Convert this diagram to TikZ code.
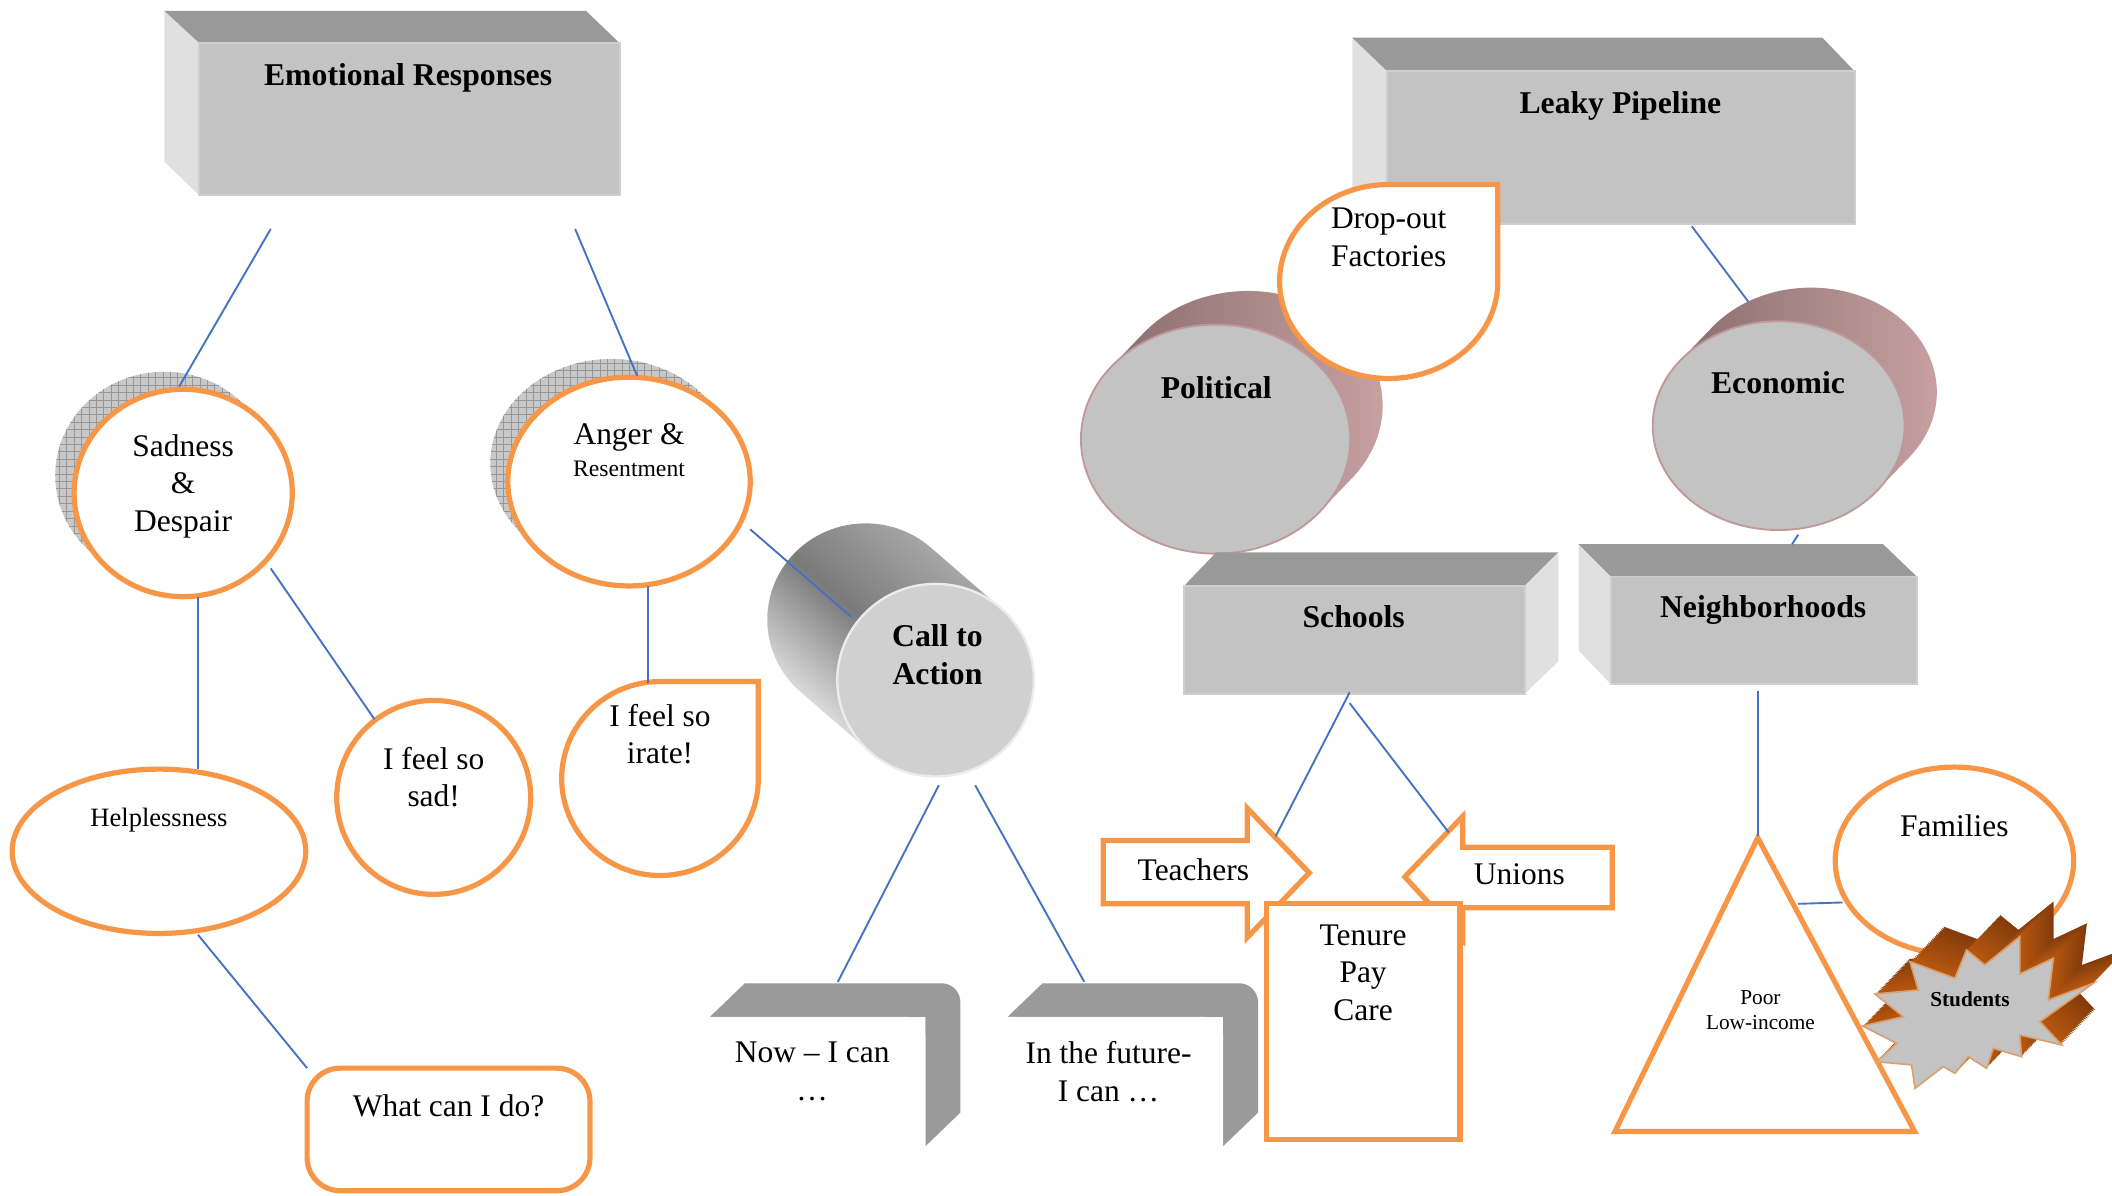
\documentclass[tikz,border=0pt]{standalone}
\usepackage{fontspec}
\setmainfont{Liberation Serif}
\definecolor{orng}{HTML}{F79646}
\definecolor{linkblue}{HTML}{4472C4}
\definecolor{boxfront}{HTML}{C3C3C3}
\definecolor{boxedge}{HTML}{CFCFCF}
\definecolor{boxtop}{HTML}{999999}
\definecolor{boxside}{HTML}{E0E0E0}
\definecolor{hatchbase}{HTML}{C8C8C8}
\definecolor{hatchline}{HTML}{969696}
\definecolor{ctaface}{HTML}{D0D0D0}
\definecolor{ctadark}{HTML}{7A7A7A}
\definecolor{ctamid}{HTML}{B0B0B0}
\definecolor{ctalight}{HTML}{F2F2F2}
\definecolor{pinkdark}{HTML}{8A6E6E}
\definecolor{pinklight}{HTML}{CBA3A3}
\definecolor{pinkedge}{HTML}{C09A9A}
\definecolor{gray3d}{HTML}{9A9A9A}
\definecolor{burstback}{HTML}{843C0C}
\definecolor{burstfront}{HTML}{B8580F}
\definecolor{burstedge}{HTML}{D9A070}
\begin{document}
\begin{tikzpicture}[x=0.02cm,y=-0.02cm,
  conn/.style={draw=linkblue,line width=0.8pt},
  obox/.style={draw=orng,line width=2.2pt,fill=white,line join=miter},
  frontface/.style={fill=boxfront,draw=boxedge,line width=0.8pt},
  txt/.style={inner sep=0pt,align=center,font=\fontsize{13.3}{15.9}\selectfont},
  btxt/.style={inner sep=0pt,align=center,font=\fontsize{13.4}{15.9}\selectfont\bfseries},
  hatchgrid/.style={draw=hatchline,line width=0.3pt}
]
\useasboundingbox (0,0) rectangle (1568,887.2);

% ---------------- Emotional Responses box
\fill[boxside] (122,8) -- (148,32) -- (148,145) -- (122,120) -- cycle;
\fill[boxtop] (122,8) -- (435,8) -- (460,32) -- (148,32) -- cycle;
\filldraw[frontface] (148,32) rectangle (460,145);
\node[btxt] (er) at (303,58) {Emotional Responses};

% ---------------- Sadness & Despair
\begin{scope}
  \clip (122,353) ellipse [x radius=81, y radius=77];
  \fill[hatchbase] (30,260) rectangle (220,450);
  \draw[hatchgrid,step=0.11cm] (30,260) grid (220,450);
\end{scope}
\draw[obox] (136,366) ellipse [x radius=81, y radius=77];
\node[txt] (sad) at (136,361) {Sadness\\\&\\Despair};

% ---------------- Anger & Resentment
\begin{scope}
  \clip (454,344) ellipse [x radius=90, y radius=77.5];
  \fill[hatchbase] (350,250) rectangle (560,440);
  \draw[hatchgrid,step=0.11cm] (350,250) grid (560,440);
\end{scope}
\draw[obox] (467,357.5) ellipse [x radius=90, y radius=77.5];
\node[txt] (anger) at (467,325) {Anger \&};
\node[inner sep=0pt,font=\fontsize{10}{12}\selectfont] (resent) at (467,348) {Resentment};

% ---------------- Helplessness, sad, irate, what can I do
\draw[obox] (118,632) ellipse [x radius=109, y radius=61];
\node[inner sep=0pt,font=\fontsize{11.2}{13}\selectfont] (help) at (118,609) {Helplessness};

\draw[obox] (322,592) ellipse [x radius=72, y radius=72];
\node[txt] (feelsad) at (322,577) {I feel so\\sad!};

\draw[obox] (563,578) arc[start angle=0, end angle=270, x radius=73, y radius=72] -- (563,506) -- cycle;
\node[txt] (irate) at (490,545) {I feel so\\irate!};

\draw[obox, rounded corners=14] (228,793) rectangle (438,884);
\node[txt] (what) at (333,821) {What can I do?};

% ---------------- Call to Action cylinder
\shade[top color=ctamid, bottom color=ctalight, middle color=ctadark, shading angle=-41]
  (691,406.5) arc[start angle=-48.5, end angle=-228.5, x radius=73, y radius=71.5]
  -- (646.2,558.5) -- (743,451.5) -- cycle;
\filldraw[fill=ctaface, draw=white!85!gray, line width=1pt] (694.6,505) ellipse [x radius=73, y radius=71.5];
\node[btxt] (cta) at (696,486) {Call to\\Action};

% ---------------- Now / Future shapes
\newcommand{\nowshape}{%
  \fill[gray3d] (527,755) -- (553,730) -- (699,730) arc[start angle=270, end angle=360, radius=14]
     -- (713,826) -- (687,851) -- (687,755) -- cycle;
  \fill[white] (527,755) -- (673,755) arc[start angle=270, end angle=360, radius=14]
     -- (687,851) -- (527,851) -- cycle;}
\nowshape
\begin{scope}[shift={(221,0)}]
  \nowshape
\end{scope}
\node[txt] (now) at (603,795.5) {Now -- I can\\\ldots};
\node[txt] (future) at (823,795.5) {In the future-\\I can \ldots};

% ---------------- Leaky Pipeline
\fill[boxside] (1004,28) -- (1030,53) -- (1030,166) -- (1004,141) -- cycle;
\fill[boxtop] (1004,28) -- (1353,28) -- (1377,53) -- (1030,53) -- cycle;
\filldraw[frontface] (1030,53) rectangle (1377,166);
\node[btxt] (leaky) at (1203,79) {Leaky Pipeline};

% ---------------- Political cylinder
\shade[left color=pinkdark, right color=pinklight]
  (849,247.3) arc[start angle=219.2, end angle=399.2, x radius=100, y radius=85]
  -- (980,379.7) -- (825,272.3) -- cycle;
\filldraw[fill=boxfront, draw=pinkedge, line width=0.8pt] (902.5,326) ellipse [x radius=100, y radius=85];
\node[btxt] (pol) at (903,288) {Political};

% ---------------- Drop-out factories
\draw[obox] (1112,209) arc[start angle=0, end angle=270, x radius=81, y radius=72] -- (1112,137) -- cycle;
\node[txt] (drop) at (1031,176) {Drop-out\\Factories};

% ---------------- Economic cylinder
\shade[left color=pinkdark, right color=pinklight]
  (1271.3,242.8) arc[start angle=218.5, end angle=398.5, x radius=93.5, y radius=77.5]
  -- (1393.7,364.2) -- (1247.3,267.8) -- cycle;
\filldraw[fill=boxfront, draw=pinkedge, line width=0.8pt] (1320.5,316) ellipse [x radius=93.5, y radius=77.5];
\node[btxt] (eco) at (1320,284) {Economic};

% ---------------- Schools
\fill[boxtop] (879,435) -- (903,410) -- (1157,410) -- (1132,435) -- cycle;
\fill[boxside] (1132,435) -- (1157,410) -- (1157,491) -- (1132,515) -- cycle;
\filldraw[frontface] (879,435) rectangle (1132,515);
\node[btxt] (schools) at (1005,458) {Schools};

% ---------------- Neighborhoods
\fill[boxside] (1172,404) -- (1196,428) -- (1196,508) -- (1172,483) -- cycle;
\fill[boxtop] (1172,404) -- (1398,404) -- (1423,428) -- (1196,428) -- cycle;
\filldraw[frontface] (1196,428) rectangle (1423,508);
\node[btxt] (neigh) at (1309,453) {Neighborhoods};

% ---------------- Teachers / Unions / Tenure
\draw[obox] (819,624) -- (926,624) -- (926,600) -- (972,648) -- (926,696) -- (926,671) -- (819,671) -- cycle;
\node[txt] (teach) at (886,646) {Teachers};
\draw[obox] (1197,629) -- (1086,629) -- (1086,606) -- (1043,651) -- (1086,698) -- (1086,674) -- (1197,674) -- cycle;
\node[txt] (unions) at (1128,649) {Unions};
\draw[obox] (940,671) rectangle (1084,846);
\node[txt] (tenure) at (1012,722) {Tenure\\Pay\\Care};

% ---------------- Triangle, Families, Students
\draw[obox] (1305,622) -- (1421.5,840) -- (1199,840) -- cycle;
\node[inner sep=0pt,align=center,font=\fontsize{9}{10.8}\selectfont] (poor) at (1307,750) {Poor\\Low-income};
\draw[obox] (1451,639) ellipse [x radius=88.5, y radius=69.5];
\node[txt] (fam) at (1451,613) {Families};

\newcommand{\burstpath}{(1418.0,713.9) -- (1424.2,735.0) -- (1392.0,738.0) -- (1413.0,754.8)
  -- (1382.8,761.7) -- (1408.1,774.6) -- (1393.2,788.2) -- (1419.2,790.6) -- (1421.7,808.0)
  -- (1442.7,791.9) -- (1451.4,796.8) -- (1461.3,784.5) -- (1474.9,793.1) -- (1479.8,778.3)
  -- (1500.9,784.5) -- (1499.6,768.4) -- (1530.6,775.8) -- (1514.5,758.5) -- (1554.1,730.0)
  -- (1520.7,742.4) -- (1524.4,711.5) -- (1499.6,723.1) -- (1499.6,695.4) -- (1473.6,716.4)
  -- (1460.0,705.3) -- (1451.4,726.3) -- cycle}
\foreach \i in {26,25,...,1}{
  \pgfmathsetmacro{\mixv}{100*\i/26}
  \fill[burstback!\mixv!burstfront, shift={(\i*0.96,-\i)}] \burstpath;
}
\filldraw[fill=boxfront, draw=burstedge, line width=0.7pt] \burstpath;
\node[inner sep=0pt,font=\fontsize{9}{10.8}\selectfont\bfseries] (stud) at (1462.5,742) {Students};

% ---------------- connectors
\coordinate (e1a) at (201,170); \coordinate (e1b) at (133,287);
\coordinate (e2a) at (427,170); \coordinate (e2b) at (473,279);
\coordinate (s1a) at (201,422); \coordinate (s1b) at (278,534);
\coordinate (s2a) at (147,443); \coordinate (s2b) at (147,571);
\coordinate (a1a) at (481,435); \coordinate (a1b) at (481,507);
\coordinate (a2a) at (557,393); \coordinate (a2b) at (632,458);
\coordinate (h1a) at (147,694); \coordinate (h1b) at (228,793);
\coordinate (c1a) at (697,583); \coordinate (c1b) at (622,729);
\coordinate (c2a) at (724,583); \coordinate (c2b) at (805,729);
\coordinate (l1a) at (1256,168); \coordinate (l1b) at (1298,224);
\coordinate (ec1) at (1335,397); \coordinate (ec2) at (1330.5,404);
\coordinate (sc1a) at (1002,514); \coordinate (sc1b) at (947,621);
\coordinate (sc2a) at (1002,522); \coordinate (sc2b) at (1075.5,618);
\coordinate (n1a) at (1305,513); \coordinate (n1b) at (1305,621);
\coordinate (t1a) at (1335,671); \coordinate (t1b) at (1368,670);
\foreach \p/\q in {e1a/e1b,e2a/e2b,s1a/s1b,s2a/s2b,a1a/a1b,a2a/a2b,h1a/h1b,c1a/c1b,c2a/c2b,
                   l1a/l1b,ec1/ec2,sc1a/sc1b,sc2a/sc2b,n1a/n1b,t1a/t1b}
  \draw[conn] (\p) -- (\q);
\end{tikzpicture}
\end{document}
